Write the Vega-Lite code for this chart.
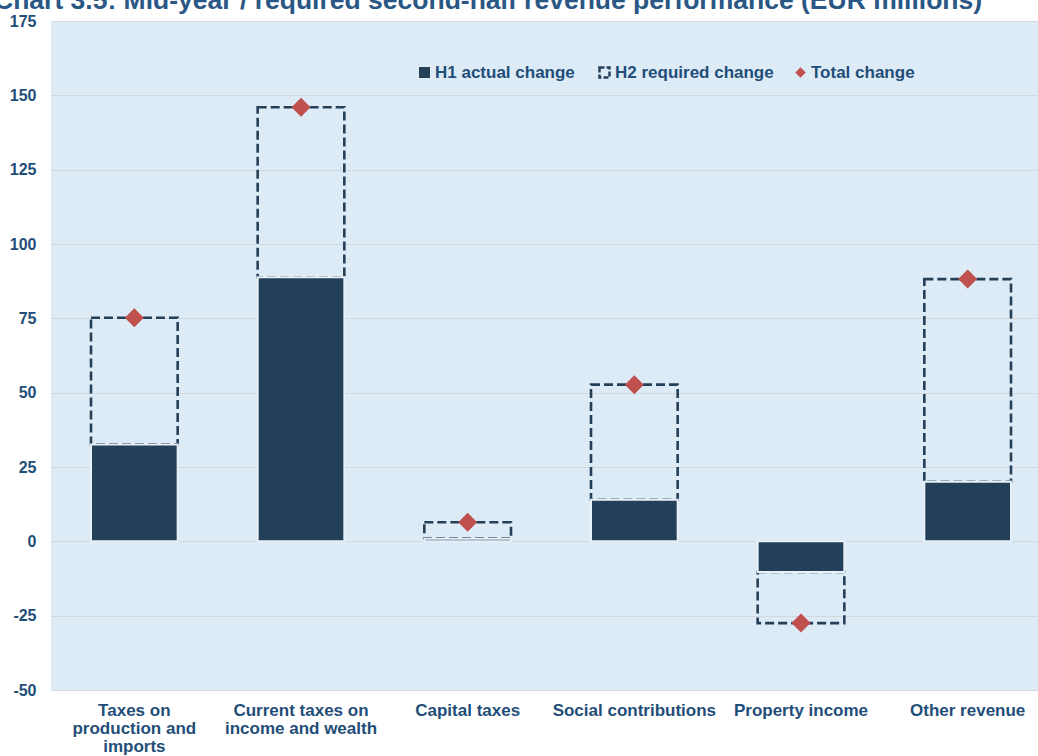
{
  "$schema": "https://vega.github.io/schema/vega-lite/v6.json",
  "autosize": {"type": "none"},
  "width": 987,
  "height": 669,
  "padding": {"left": 51, "top": 21, "right": 0, "bottom": 66},
  "background": "white",
  "config": {
    "font": "Liberation Sans",
    "view": {"fill": "#DDEBF7", "stroke": null}
  },
  "title": {
    "text": "Chart 3.5: Mid-year / required second-half revenue performance (EUR millions)",
    "anchor": "start",
    "frame": "group",
    "dx": -57,
    "fontSize": 26.5,
    "fontWeight": "bold",
    "color": "#2A5784",
    "baseline": "alphabetic",
    "offset": -22
  },
  "data": {
    "values": [
      {"cat": "Taxes on production and imports", "h1": 32.6, "total": 75.2},
      {"cat": "Current taxes on income and wealth", "h1": 88.8, "total": 146.0},
      {"cat": "Capital taxes", "h1": 0.9, "total": 6.4},
      {"cat": "Social contributions", "h1": 14.0, "total": 52.7},
      {"cat": "Property income", "h1": -10.3, "total": -27.5},
      {"cat": "Other revenue", "h1": 20.0, "total": 88.2}
    ]
  },
  "encoding": {
    "x": {
      "field": "cat",
      "type": "nominal",
      "sort": null,
      "title": null,
      "scale": {"range": [0, 1000], "paddingInner": 0.48, "paddingOuter": 0.24},
      "axis": {
        "domain": false,
        "ticks": false,
        "labelAngle": 0,
        "labelFontSize": 17,
        "labelFontWeight": "bold",
        "labelColor": "#1F4E79",
        "labelPadding": 12,
        "labelLineHeight": 18,
        "labelBaseline": "top",
        "labelLimit": 300,
        "labelExpr": "datum.value == 'Taxes on production and imports' ? ['Taxes on', 'production and', 'imports'] : datum.value == 'Current taxes on income and wealth' ? ['Current taxes on', 'income and wealth'] : datum.value"
      }
    }
  },
  "layer": [
    {
      "mark": {"type": "bar", "filled": false, "strokeDash": [9, 4], "strokeWidth": 2.6},
      "encoding": {
        "y": {
          "field": "h1",
          "type": "quantitative",
          "scale": {"domain": [-50, 175], "nice": false},
          "title": null,
          "axis": {
            "values": [-50, -25, 0, 25, 50, 75, 100, 125, 150, 175],
            "domain": false,
            "ticks": false,
            "grid": true,
            "gridColor": "#D3D8DE",
            "gridWidth": 1.2,
            "labelFontSize": 16,
            "labelFontWeight": "bold",
            "labelColor": "#1F4E79",
            "labelPadding": 15,
            "labelExpr": "toString(datum.value)"
          }
        },
        "y2": {"field": "total"},
        "color": {
          "datum": "H2 required change",
          "type": "nominal",
          "scale": {"domain": ["H2 required change"], "range": ["#243F58"]},
          "legend": {
            "title": null,
            "orient": "none",
            "legendX": 545,
            "legendY": 43,
            "labelFontSize": 17,
            "labelFontWeight": "bold",
            "labelColor": "#1F4E79",
            "labelOffset": 2,
            "symbolSize": 100,
            "symbolType": "square",
            "symbolFillColor": "transparent",
            "symbolStrokeColor": "#243F58",
            "symbolStrokeWidth": 2.5,
            "symbolDash": [5, 2]
          }
        }
      }
    },
    {
      "mark": {"type": "bar", "stroke": "#E8F0F8", "strokeWidth": 2},
      "encoding": {
        "y": {"field": "h1", "type": "quantitative"},
        "color": {
          "datum": "H1 actual change",
          "type": "nominal",
          "scale": {"domain": ["H1 actual change"], "range": ["#243F58"]},
          "legend": {
            "title": null,
            "orient": "none",
            "legendX": 365,
            "legendY": 43,
            "labelFontSize": 17,
            "labelFontWeight": "bold",
            "labelColor": "#1F4E79",
            "labelOffset": 2,
            "symbolSize": 121,
            "symbolType": "square",
            "symbolStrokeWidth": 0
          }
        }
      }
    },
    {
      "mark": {"type": "point", "shape": "diamond", "filled": true, "size": 360, "opacity": 1},
      "encoding": {
        "y": {"field": "total", "type": "quantitative"},
        "color": {
          "datum": "Total change",
          "type": "nominal",
          "scale": {"domain": ["Total change"], "range": ["#C0504D"]},
          "legend": {
            "title": null,
            "orient": "none",
            "legendX": 741,
            "legendY": 43,
            "labelFontSize": 17,
            "labelFontWeight": "bold",
            "labelColor": "#1F4E79",
            "labelOffset": 2,
            "symbolSize": 110,
            "symbolType": "diamond",
            "symbolOpacity": 1,
            "symbolStrokeWidth": 0
          }
        }
      }
    }
  ],
  "resolve": {
    "scale": {"y": "shared", "color": "independent"},
    "legend": {"color": "independent"}
  }
}
